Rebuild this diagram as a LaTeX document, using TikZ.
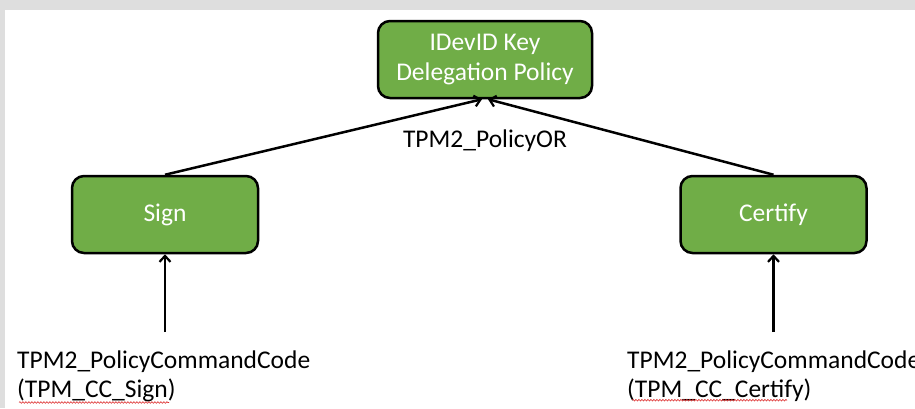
\documentclass[tikz,border=0pt]{standalone}
\usepackage{fontspec}
\setmainfont{Carlito}
\usetikzlibrary{arrows.meta,decorations.pathmorphing}
\definecolor{panelgray}{RGB}{222,222,222}
\definecolor{policygreen}{RGB}{112,173,71}
\definecolor{spellred}{RGB}{220,40,40}
\tikzset{
  policybox/.style={draw=black, line width=2.5pt, fill=policygreen, rounded corners=12pt,
    text=white, align=center, font=\fontsize{25.5}{29.5}\selectfont, inner sep=0pt},
  lbl/.style={font=\fontsize{25.5}{29}\selectfont, text=black, inner sep=0pt},
  arr/.style={line width=2.5pt, -{Straight Barb[length=6pt,width=11pt,line width=2.2pt]}},
  squig/.style={spellred, line width=0.6pt, decorate,
    decoration={snake, amplitude=0.8pt, segment length=3pt}}
}
\begin{document}
\begin{tikzpicture}[x=1pt,y=-1pt]
  % page frame
  \fill[panelgray] (0,0) rectangle (915,408);
  \fill[white] (5,10) rectangle (915,408);
  \useasboundingbox (0,0) rectangle (915,408);

  % policy boxes
  \node[policybox, minimum width=214pt, minimum height=77pt] (root) at (485,59.5)
    {IDevID Key\\Delegation Policy};
  \node[policybox, minimum width=186pt, minimum height=77pt] (sign) at (165,214.5) {Sign};
  \node[policybox, minimum width=186pt, minimum height=77pt] (cert) at (773.5,214.5) {Certify};

  % OR combination
  \draw[arr] (sign.north) -- ([xshift=-3pt]root.south);
  \draw[arr] (cert.north) -- ([xshift=3pt]root.south);
  \node[lbl, anchor=base] (orlbl) at (485,147) {TPM2\_PolicyOR};

  % command code branches
  \coordinate (signsrc) at (165,332);
  \coordinate (certsrc) at (773.5,332);
  \draw[arr] (signsrc) -- (sign.south);
  \draw[arr] (certsrc) -- (cert.south);

  \node[lbl, align=left, anchor=north west] (signlbl) at (17,351)
    {TPM2\_PolicyCommandCode\\(TPM\_CC\_Sign)};
  \node[lbl, align=left, anchor=north west] (certlbl) at (627,351)
    {TPM2\_PolicyCommandCode\\(TPM\_CC\_Certify)};

  % spell-check underlines
  \draw[squig] ([xshift=2pt]signlbl.south west) -- ++(150,0);
  \draw[squig] ([xshift=5pt,yshift=2pt]certlbl.south west) -- ++(155,0);
\end{tikzpicture}
\end{document}
